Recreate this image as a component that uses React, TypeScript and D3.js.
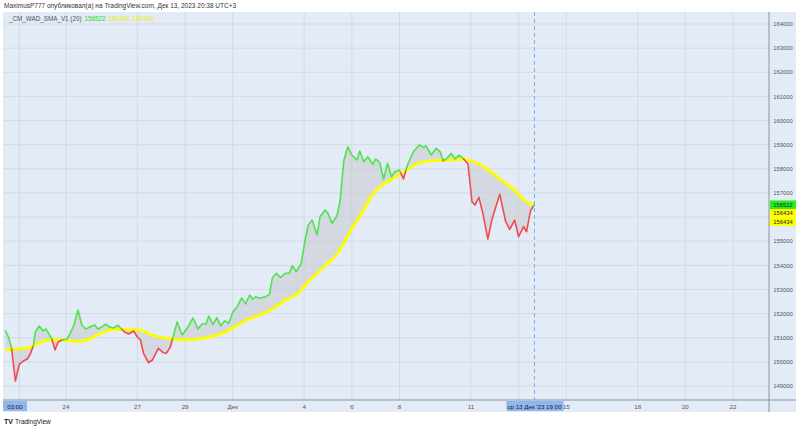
import React from "react";
import * as d3 from "d3";

// hours since 24 Nov 2023 00:00
const priceHours = [-61,-58,-55,-51,-47,-43,-39,-36,-33,-31,-27,-23,-20,-16,-14,-11,-8,-4,1,4,8,12,16,20,24,29,32,36,40,44,48,52,56,59,63,68,72,75,78,83,87,93,98,101,105,112,117,122,128,133,137,141,144,148,152,156,160,164,168,172,177,181,185,188,191,195,201,205,208,212,216,221,225,228,232,237,240,244,248,253,256,261,264,268,273,276,280,284,288,293,296,300,304,309,312,316,320,324,328,331,336,340,344,350,356,360,363,368,373,377,380,384,388,392,396,400,405,409,412,416,420,425,429,437,443,447,452,456,461,464,468,472];
const priceValues = [151280,151030,150615,149206,149910,150035,150118,150325,150656,151236,151485,151278,151361,151071,150905,150491,150822,150905,150946,151154,151527,152148,151527,151361,151444,151527,151361,151444,151568,151444,151402,151527,151361,151236,151154,151278,151029,150905,150366,149964,150076,150561,150379,150354,150603,151651,151112,151390,151817,151361,151568,151568,151900,151539,151829,151494,151701,151597,152053,152252,152654,152397,152770,152592,152699,152633,152699,152799,153487,153669,153487,153669,153669,153984,153735,154083,154842,155671,155878,155256,156014,156292,156155,155741,156044,156636,158364,158915,158571,158364,158737,158294,158501,158186,158406,158269,157577,158227,157672,157879,157950,157577,158157,158708,158986,158890,158944,158571,158849,158708,158335,158435,158642,158406,158571,158435,158198,156636,156499,156818,156155,155090,155878,156943,155807,155492,155878,155186,155600,155393,156263,156522];

const smaHours = [-61,-49,-39,-34,-29,-23,-13,-1,9,19,26,31,37,44,52,64,72,78,88,100,113,127,140,153,163,173,183,193,204,214,221,233,244,258,271,279,288,298,306,314,324,337,347,357,370,387,400,410,420,430,440,452,460,472];
const smaValues = [150491,150532,150561,150627,150760,150864,150926,150905,150843,150884,150967,151112,151224,151319,151348,151328,151348,151270,151091,150975,150926,150926,150992,151112,151278,151527,151763,151912,152107,152355,152563,152799,153321,153876,154357,154842,155534,156155,156777,157191,157465,157784,158053,158281,158335,158364,158406,158302,158116,157805,157494,157121,156748,156434];

const priceTicks = [149000,150000,151000,152000,153000,154000,155000,156000,157000,158000,159000,160000,161000,162000,163000,164000];
const timeTickHours = [0,72,120,168,240,288,336,408,456,504,576,624,672];
const timeTickLabels = ["24","27","29","Дек","4","6","8","11","","15","18","20","22"];
const firstTickHour = -47;
const firstTickLabel = "03:00";
const crosshairLabel = "ср 13 Дек '23  19:00";
const headerText = "MaximusP777 опубликовал(а) на TradingView.com, Дек 13, 2023 20:38 UTC+3";
const legendName = "_CM_WAD_SMA_V1 (20)";
const lastPrice = 156522;
const lastSma = 156434;

const FONT = "'Liberation Sans', Arial, sans-serif";
const GREEN = "#4fe34f";
const RED = "#f24a50";
const YELLOW = "#ffff00";

export default function App() {
  const W = 800, H = 429;
  const plotL = 3, plotR = 769, plotT = 12, plotB = 400;
  const x = d3.scaleLinear().domain([0, 672]).range([66, 733]);
  const y = d3.scaleLinear().domain([149000, 164000]).range([386, 24]);
  const smaAt = d3.scaleLinear().domain(smaHours).range(smaValues).clamp(true);
  const priceAt = d3.scaleLinear().domain(priceHours).range(priceValues).clamp(true);

  const segs: { pts: [number, number][]; color: string }[] = [];
  const push = (a: [number, number], b: [number, number], color: string) => {
    const last = segs[segs.length - 1];
    if (last && last.color === color) last.pts.push(b);
    else segs.push({ pts: [a, b], color });
  };
  for (let i = 0; i < priceHours.length - 1; i++) {
    const h0 = priceHours[i], h1 = priceHours[i + 1];
    const p0 = priceValues[i], p1 = priceValues[i + 1];
    const d0 = p0 - smaAt(h0), d1 = p1 - smaAt(h1);
    if (d0 * d1 < 0) {
      const f = d0 / (d0 - d1);
      const hc = h0 + f * (h1 - h0), pc = p0 + f * (p1 - p0);
      push([h0, p0], [hc, pc], d0 >= 0 ? GREEN : RED);
      push([hc, pc], [h1, p1], d1 >= 0 ? GREEN : RED);
    } else {
      push([h0, p0], [h1, p1], d0 + d1 >= 0 ? GREEN : RED);
    }
  }
  const line = d3.line<[number, number]>().x(d => x(d[0])).y(d => y(d[1]));

  const lo = Math.max(priceHours[0], smaHours[0]);
  const hi = Math.min(priceHours[priceHours.length - 1], smaHours[smaHours.length - 1]);
  const ts = Array.from(new Set([...priceHours, ...smaHours])).filter(t => t >= lo && t <= hi).sort((a, b) => a - b);
  const area = d3.area<number>().x(t => x(t)).y0(t => y(smaAt(t))).y1(t => y(priceAt(t)));

  const smaLine = d3.line<number>().x((_, i) => x(smaHours[i])).y(v => y(v));
  const crossX = x(priceHours[priceHours.length - 1]);

  const yGreen = y(lastPrice);
  const fs = 5.8;
  const labelTop = yGreen - 4, labelBottom = yGreen + 21.5;
  const visibleTicks = priceTicks.filter(v => y(v) + 3 < labelTop || y(v) - 3 > labelBottom);

  return (
    <svg width={W} height={H} style={{ position: "absolute", left: 0, top: 0 }} fontFamily={FONT}>
      <rect x={0} y={0} width={W} height={H} fill="#ffffff" />
      <text x={4} y={8} fontSize={6.5} fill="#333">{headerText}</text>
      <rect x={plotL} y={plotT} width={796 - plotL} height={412 - plotT} fill="#e3ebf6" />
      {priceTicks.map(v => (
        <line key={v} x1={plotL} x2={plotR} y1={y(v)} y2={y(v)} stroke="#d3dbe6" strokeWidth={1} />
      ))}
      {[firstTickHour, ...timeTickHours].map(h => (
        <line key={h} x1={x(h)} x2={x(h)} y1={plotT} y2={plotB} stroke="#d3dbe6" strokeWidth={1} />
      ))}
      <path d={area(ts) || ""} fill="#c9ccd2" fillOpacity={0.6} />
      <path d={smaLine(smaValues) || ""} fill="none" stroke={YELLOW} strokeWidth={3} strokeLinejoin="round" />
      <path d={smaLine(smaValues) || ""} fill="none" stroke="#eeee10" strokeWidth={1} strokeDasharray="1.5,2.5" />
      {segs.map((s, i) => (
        <path key={i} d={line(s.pts) || ""} fill="none" stroke={s.color} strokeWidth={1.6} strokeLinejoin="round" strokeLinecap="round" />
      ))}
      <line x1={crossX} x2={crossX} y1={plotT} y2={plotB} stroke="#7aaef2" strokeWidth={1} strokeDasharray="4,3" />
      <line x1={plotR} x2={plotR} y1={plotT} y2={412} stroke="#8e939b" strokeWidth={1} />
      <line x1={plotL} x2={796} y1={plotB} y2={plotB} stroke="#8e939b" strokeWidth={1} />
      {visibleTicks.map(v => (
        <text key={v} x={783} y={y(v) + 2.2} fontSize={fs} fill="#555" textAnchor="middle">{v}</text>
      ))}
      {timeTickHours.map((h, i) => timeTickLabels[i] ? (
        <text key={h} x={x(h)} y={409} fontSize={6.2} fill="#555" textAnchor="middle">{timeTickLabels[i]}</text>
      ) : null)}
      <rect x={plotL} y={401} width={24} height={10} fill="#8fb6ef" />
      <text x={plotL + 12} y={409} fontSize={6.2} fill="#222" textAnchor="middle">{firstTickLabel}</text>
      <rect x={crossX - 28} y={401} width={57} height={10} fill="#8fb6ef" />
      <text x={crossX} y={409} fontSize={6.2} fill="#222" textAnchor="middle">{crosshairLabel}</text>
      <rect x={plotR + 1} y={yGreen - 4} width={26} height={8.5} fill="#22ee22" />
      <text x={783} y={yGreen + 2.2} fontSize={fs} fill="#222" textAnchor="middle">{lastPrice}</text>
      <rect x={plotR + 1} y={yGreen + 4.5} width={26} height={8.5} fill={YELLOW} />
      <text x={783} y={yGreen + 10.7} fontSize={fs} fill="#222" textAnchor="middle">{lastSma}</text>
      <rect x={plotR + 1} y={yGreen + 13} width={26} height={8.5} fill={YELLOW} />
      <text x={783} y={yGreen + 19.2} fontSize={fs} fill="#222" textAnchor="middle">{lastSma}</text>
      <text x={9} y={21} fontSize={6.3} fill="#555">{legendName}
        <tspan dx={3} fill="#22dd22">{lastPrice}</tspan>
        <tspan dx={3} fill="#eeee00">{lastSma}</tspan>
        <tspan dx={3} fill="#eeee00">{lastSma}</tspan>
      </text>
      <text x={4} y={424} fontSize={7} fontWeight="bold" fill="#131722">TV</text>
      <text x={15} y={424} fontSize={6.5} fill="#131722">TradingView</text>
    </svg>
  );
}
